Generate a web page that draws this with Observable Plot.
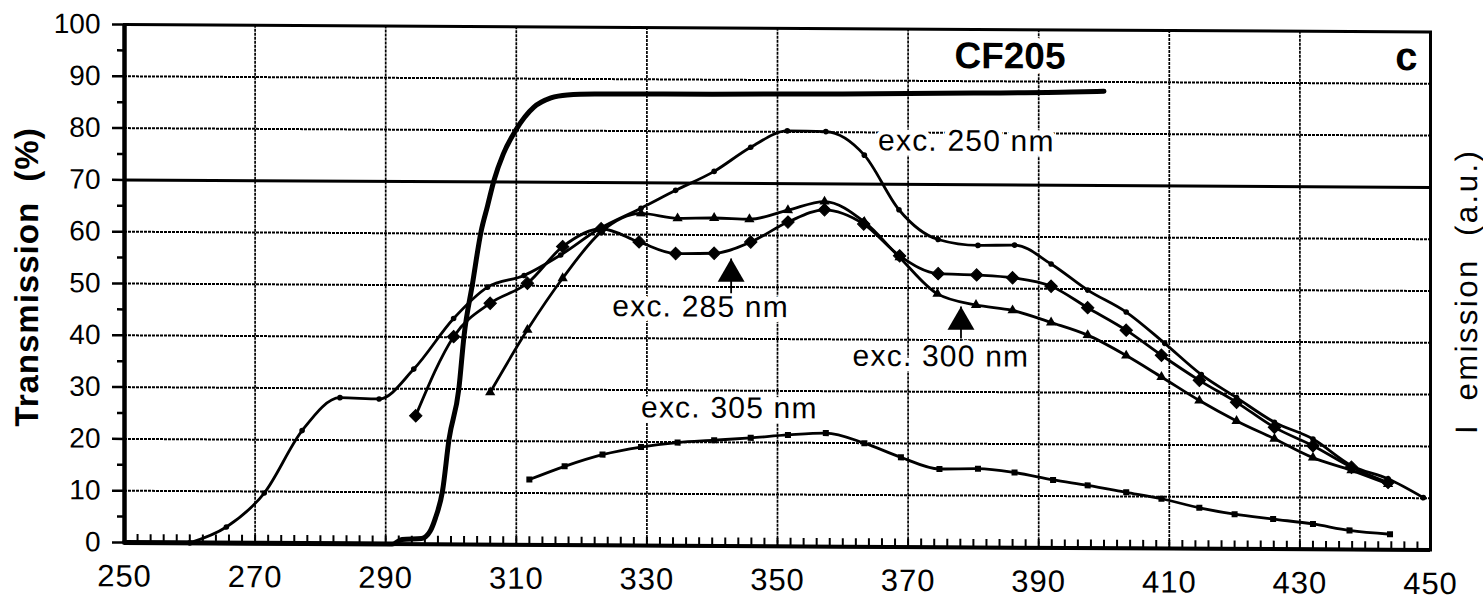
<!DOCTYPE html>
<html><head><meta charset="utf-8">
<script src="https://cdn.jsdelivr.net/npm/d3@7"></script>
<script src="https://cdn.jsdelivr.net/npm/@observablehq/plot@0.6"></script>
<style>
html,body{margin:0;padding:0;background:#fff;}
#chart svg{display:block;transform:skewY(0.33deg);transform-origin:124px 0px;}
</style></head>
<body><div id="chart"></div>
<script>
// ---------- data (wavelength in nm, intensity / transmission in %) ----------
const filterX = [250, 291, 292.5, 295.5, 296.8, 297.6, 298.7, 299.7, 301.2, 302, 303.3, 304.6, 305.6, 306.6, 308, 309.9, 312.7, 315.3, 317.8, 322, 340, 360, 380, 395, 400];
const filterY = [0, 0, 0.9, 1.1, 2.5, 5, 10.3, 20.3, 30, 40.3, 50.4, 60.4, 65.4, 70.4, 75.4, 80, 84.5, 86.3, 86.9, 87.1, 87.2, 87.4, 87.7, 88.0, 88.2];

const exc250X = [260, 265.6, 271.4, 277.2, 283.0, 289.0, 294.3, 300.4, 305.6, 311.2, 316.8, 322.6, 329.1, 334.4, 340.3, 345.9, 351.5, 357.4, 363.3, 368.6, 374.6, 380.7, 386.3, 391.9, 397.5, 403.4, 409.3, 414.9, 420.3, 426.1, 432.0, 437.9, 443.5, 448.9];
const exc250Y = [0, 3.1, 9.7, 21.8, 28.2, 28.0, 33.8, 43.6, 49.7, 52.0, 56.0, 61.0, 65.1, 68.6, 72.3, 77.0, 80.2, 80.1, 75.6, 65.1, 59.4, 58.3, 58.4, 54.8, 49.8, 45.6, 39.6, 33.6, 29.2, 24.5, 21.3, 16.2, 13.7, 10.1];

const exc285X = [294.6, 300.4, 306.0, 311.7, 317.1, 323.0, 328.8, 334.4, 340.3, 345.9, 351.6, 357.2, 363.2, 368.7, 374.6, 380.5, 386.0, 391.9, 397.5, 403.4, 408.8, 414.6, 420.3, 426.1, 432.0, 437.9, 443.5];
const exc285Y = [24.8, 40.1, 46.6, 50.5, 57.6, 61.1, 58.6, 56.4, 56.5, 58.7, 62.6, 65.0, 62.3, 56.2, 52.8, 52.6, 52.1, 50.5, 46.4, 42.1, 37.3, 32.5, 28.3, 23.5, 20.0, 15.9, 13.0];

const exc300X = [306.0, 311.7, 317.1, 323.0, 329.1, 334.7, 340.3, 345.7, 351.6, 357.2, 363.3, 368.7, 374.5, 380.4, 386.0, 391.9, 397.5, 403.4, 408.8, 414.6, 420.3, 426.1, 432.0, 437.9, 443.5];
const exc300Y = [29.4, 41.5, 51.5, 60.5, 64.1, 63.2, 63.3, 63.1, 64.9, 66.6, 62.7, 55.9, 48.9, 46.8, 45.8, 43.5, 41.1, 37.2, 33.1, 28.6, 24.7, 21.3, 17.7, 15.3, 12.7];

const exc305X = [312.0, 317.4, 323.2, 329.1, 334.7, 340.3, 345.9, 351.6, 357.4, 363.3, 368.9, 374.8, 380.7, 386.3, 392.2, 397.5, 403.4, 408.8, 414.6, 420.0, 425.9, 432.0, 437.6, 443.8];
const exc305Y = [12.6, 15.2, 17.5, 19.0, 19.9, 20.4, 20.9, 21.5, 21.9, 20.0, 17.3, 15.1, 15.2, 14.5, 13.1, 12.1, 10.8, 9.6, 7.9, 6.7, 5.8, 4.9, 3.7, 3.0];

const xTicks = [250, 270, 290, 310, 330, 350, 370, 390, 410, 430, 450];
const yTicks = [0, 10, 20, 30, 40, 50, 60, 70, 80, 90, 100];
const xGrid = [270, 290, 310, 330, 350, 370, 390, 410, 430];
const yGrid = [10, 20, 30, 40, 50, 60, 80, 90];
const yMinor = [5, 15, 25, 35, 45, 55, 65, 75, 85, 95];
const xMinor = d3.range(252, 450, 2);

// annotations
const labelText = ["exc. 250 nm", "exc. 285 nm", "exc. 300 nm", "exc. 305 nm"];
const labelX = [365.4, 324.7, 361.5, 329.1];
const labelY = [78.4, 46.1, 36.8, 26.6];
const arrowX = [342.9, 378.1];
const arrowTip = [55.5, 46.5];
const arrowBase = [48.8, 40.3];

// ---------- build ----------
const pts = (xs, ys) => xs.map((x, i) => ({x, y: ys[i]}));
const filter = pts(filterX, filterY);
const s250 = pts(exc250X, exc250Y);
const s285 = pts(exc285X, exc285Y);
const s300 = pts(exc300X, exc300Y);
const s305 = pts(exc305X, exc305Y);
const labels = labelText.map((t, i) => ({t, x: labelX[i], y: labelY[i]}));
const arrows = arrowX.map((x, i) => ({x, tip: arrowTip[i], base: arrowBase[i]}));

const W = 1483, H = 602, mL = 124, mR = 53, mT = 24, mB = 60;
const plotH = H - mT - mB;
const font = "Liberation Sans, Arial, Helvetica, sans-serif";
const halo = {stroke: "white", strokeWidth: 10, paintOrder: "stroke", strokeLinejoin: "round", fill: "black"};

const chart = Plot.plot({
  width: W, height: H,
  marginLeft: mL, marginRight: mR, marginTop: mT, marginBottom: mB,
  x: {domain: [250, 450], label: null},
  y: {domain: [0, 100], label: null},
  style: {fontFamily: font, background: "white", color: "black"},
  marks: [
    Plot.ruleY(yGrid, {stroke: "black", strokeWidth: 2, strokeDasharray: "3,1"}),
    Plot.ruleY([70], {stroke: "black", strokeWidth: 3}),
    Plot.ruleX(xGrid, {stroke: "black", strokeWidth: 1.7, strokeDasharray: "3,1"}),
    Plot.frame({stroke: "black", strokeWidth: 3}),
    Plot.ruleX([250], {stroke: "black", strokeWidth: 4.5}),
    Plot.ruleY([0], {stroke: "black", strokeWidth: 4}),
    Plot.tickX(xMinor, {x: d => d, insetTop: plotH - 8, stroke: "black", strokeWidth: 2}),
    Plot.axisY({ticks: yMinor, tickSize: 7, tickFormat: () => "", strokeWidth: 2.5, label: null}),
    Plot.axisY({ticks: yTicks, tickSize: 12, tickPadding: 12, fontSize: 28, strokeWidth: 2.5, label: null}),
    Plot.axisX({ticks: xTicks, tickSize: 0, tickPadding: 22, fontSize: 31, label: null}),
    Plot.text(["Transmission\u00A0\u00A0(%)"], {frameAnchor: "left", textAnchor: "middle", dx: -97, dy: -6, rotate: -90, fontSize: 33, fontWeight: "bold"}),
    Plot.text(["I\u00A0\u00A0emission\u00A0\u00A0(a.u.)"], {frameAnchor: "right", textAnchor: "middle", dx: 37, rotate: -90, fontSize: 31}),
    // labels with white boxes
    Plot.text(labels, {x: "x", y: "y", text: "t", textAnchor: "start", fontSize: 30, ...halo}),
    Plot.text(["CF205"], {x: [377.1], y: [94.8], textAnchor: "start", fontSize: 37, fontWeight: "bold", ...halo}),
    Plot.text(["c"], {x: [446.3], y: [95.1], fontSize: 40, fontWeight: "bold", fill: "black"}),
    // arrows
    Plot.link(arrows, {x1: "x", x2: "x", y1: "base", y2: "tip", stroke: "black", strokeWidth: 1.8}),
    Plot.dot(arrows, {x: "x", y: "tip", symbol: "triangle", r: 10, fill: "black", dy: 15.5}),
    // curves
    Plot.line(filter, {x: "x", y: "y", curve: "monotone-x", stroke: "black", strokeWidth: 5}),
    Plot.line(s250, {x: "x", y: "y", curve: "monotone-x", stroke: "black", strokeWidth: 2.8}),
    Plot.dot(s250, {x: "x", y: "y", r: 2.8, fill: "black"}),
    Plot.line(s285, {x: "x", y: "y", curve: "monotone-x", stroke: "black", strokeWidth: 2.8}),
    Plot.dot(s285, {x: "x", y: "y", symbol: "diamond2", r: 5.6, fill: "black", stroke: "black", strokeWidth: 1}),
    Plot.line(s300, {x: "x", y: "y", curve: "monotone-x", stroke: "black", strokeWidth: 2.8}),
    Plot.dot(s300, {x: "x", y: "y", symbol: "triangle", r: 3.8, fill: "black"}),
    Plot.line(s305, {x: "x", y: "y", curve: "monotone-x", stroke: "black", strokeWidth: 2.8}),
    Plot.dot(s305, {x: "x", y: "y", symbol: "square", r: 3.4, fill: "black"})
  ]
});

chart.querySelectorAll("text").forEach(t => {
  const s = t.textContent;
  if (s.startsWith("exc.")) t.setAttribute("letter-spacing", "1.2");
  if (s.startsWith("Transmission")) t.setAttribute("letter-spacing", "1");
  if (s.startsWith("I\u00A0")) t.setAttribute("letter-spacing", "2.5");
});
chart.querySelectorAll('g[aria-label="x-axis tick label"] text').forEach(t => t.setAttribute("letter-spacing", "1"));

document.getElementById("chart").appendChild(chart);
</script>
</body></html>
